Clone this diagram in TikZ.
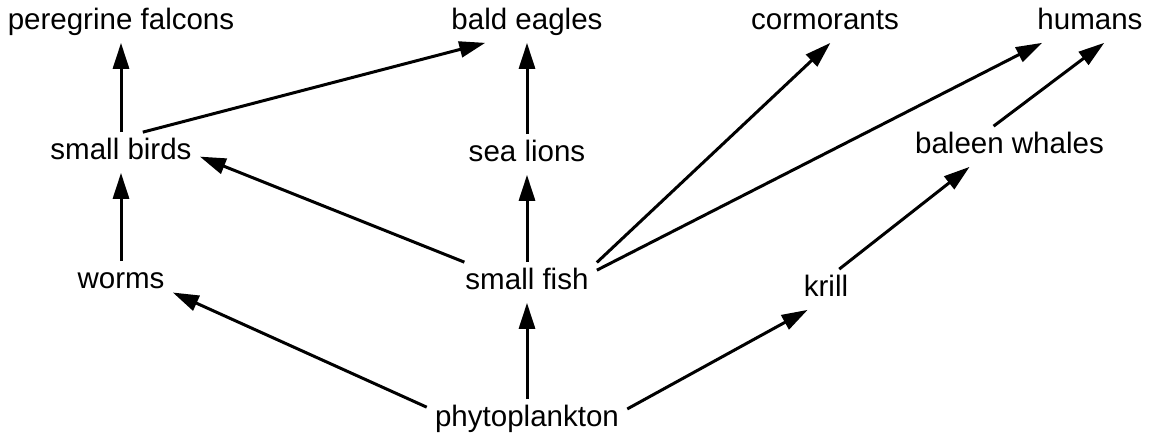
\documentclass[tikz,border=0pt]{standalone}
\usepackage{fontspec}
\setmainfont{Liberation Sans}
\usetikzlibrary{arrows.meta,positioning}

\tikzset{
  species/.style={rectangle,inner xsep=0.16cm,inner ysep=0.13cm,
    text height=0.42cm,text depth=0.12cm,font=\fontsize{16.8pt}{20pt}\selectfont},
  eats/.style={line width=0.06cm,-{Triangle[length=0.52cm,width=0.32cm]}}
}

\begin{document}
\begin{tikzpicture}
                    \useasboundingbox (0,0) rectangle (23.020000,8.780000);

                    % Placing top row
                    \node[species] (falcons)    at (2.420000,8.330000)  {peregrine falcons};
                    \node[species] (eagles)     at (10.540000,8.330000) {bald eagles};
                    \node[species] (cormorants) at (16.500000,8.330000) {cormorants};
                    \node[species] (humans)     at (21.800000,8.330000) {humans};

                    % Placing second row
                    \node[species] (birds)    at (2.420000,5.730000)  {small birds};
                    \node[species] (sealions) at (10.540000,5.690000) {sea lions};
                    \node[species] (whales)   at (20.190000,5.850000) {baleen whales};

                    % Placing third row
                    \node[species] (worms) at (2.420000,3.150000)  {worms};
                    \node[species] (fish)  at (10.540000,3.130000) {small fish};
                    \node[species] (krill) at (16.520000,2.990000) {krill};

                    % Placing bottom
                    \node[species] (phyto) at (10.540000,0.390000) {phytoplankton};

                    % Drawing line birds falcons
                    \draw[eats] (birds.north) -- (falcons.south);%
                    % Drawing line birds eagles
                    \draw[eats] (birds.43) -- (eagles.206);%
                    % Drawing line sealions eagles
                    \draw[eats] (sealions.north) -- (eagles.south);%

                    % Drawing line fish birds
                    \draw[eats] (fish.162) -- (birds.357);%
                    % Drawing line fish sealions
                    \draw[eats] (fish.north) -- (sealions.south);%
                    % Drawing line fish cormorants
                    \draw[eats] (fish.16) -- (cormorants.285);%
                    % Drawing line fish humans
                    \draw[eats] (fish.10) -- (humans.203);%

                    % Drawing line worms birds
                    \draw[eats] (worms.north) -- (birds.south);%

                    % Drawing line phyto worms
                    \draw[eats] (phyto.173) -- (worms.348);%
                    % Drawing line phyto fish
                    \draw[eats] (phyto.north) -- (fish.south);%
                    % Drawing line phyto krill
                    \draw[eats] (phyto.6) -- (krill.228);%

                    % Drawing line krill whales
                    \draw[eats] (krill.57) -- (whales.207);%
                    % Drawing line whales humans
                    \draw[eats] (whales.128) -- (humans.305);%
\end{tikzpicture}
\end{document}
